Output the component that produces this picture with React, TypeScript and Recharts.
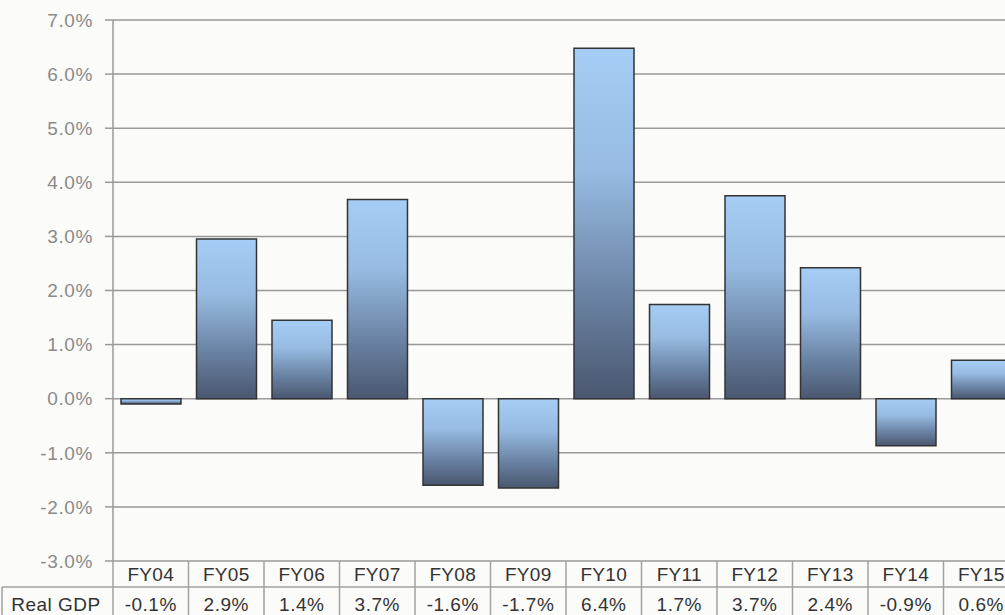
import React from 'react';
import { BarChart, Bar, XAxis, YAxis, CartesianGrid } from 'recharts';

// fiscal years shown under the plot
const years = ['FY04', 'FY05', 'FY06', 'FY07', 'FY08', 'FY09', 'FY10', 'FY11', 'FY12', 'FY13', 'FY14', 'FY15'];
// bar heights (%)
const growth = [-0.1, 2.95, 1.45, 3.68, -1.6, -1.65, 6.48, 1.74, 3.75, 2.42, -0.87, 0.71];
// numbers printed in the table row
const tableText = ['-0.1%', '2.9%', '1.4%', '3.7%', '-1.6%', '-1.7%', '6.4%', '1.7%', '3.7%', '2.4%', '-0.9%', '0.6%'];
const yTicks = [-3, -2, -1, 0, 1, 2, 3, 4, 5, 6, 7];
const rowLabel = 'Real GDP';

const data = years.map((fy, i) => ({ fy, gdp: growth[i], label: tableText[i] }));

const PLOT_LEFT = 113;
const PLOT_BOTTOM = 561;
const COL_W = 75.5;
const ROW_SPLIT = 587;
const TABLE_END = 640;
const FONT = '"Liberation Sans", Arial, sans-serif';
const BORDER = '#a2a2a2';
const INK = '#333';

const TableTick = (props: any) => {
  const { x, payload } = props;
  const i = payload.index;
  const left = x - COL_W / 2;
  const right = x + COL_W / 2;
  return (
    <g>
      <line x1={left} y1={PLOT_BOTTOM} x2={left} y2={TABLE_END} stroke={BORDER} strokeWidth={1.5} />
      {i === years.length - 1 && (
        <line x1={right} y1={PLOT_BOTTOM} x2={right} y2={TABLE_END} stroke={BORDER} strokeWidth={1.5} />
      )}
      {i === 0 && (
        <g>
          <line x1={2} y1={ROW_SPLIT} x2={left + COL_W * years.length} y2={ROW_SPLIT} stroke={BORDER} strokeWidth={1.5} />
          <line x1={2} y1={ROW_SPLIT} x2={2} y2={TABLE_END} stroke={BORDER} strokeWidth={1.5} />
          <text x={56} y={611} textAnchor="middle" fontSize={19} fill={INK} fontFamily={FONT} letterSpacing={0.5}>
            {rowLabel}
          </text>
        </g>
      )}
      <text x={x} y={581} textAnchor="middle" fontSize={19} fill={INK} fontFamily={FONT} letterSpacing={0.3}>
        {payload.value}
      </text>
      <text x={x} y={611} textAnchor="middle" fontSize={19} fill={INK} fontFamily={FONT} letterSpacing={0.5}>
        {tableText[i]}
      </text>
    </g>
  );
};

export default function App() {
  return (
    <div
      style={{
        position: 'absolute',
        left: 0,
        top: 0,
        width: 1005,
        height: 615,
        overflow: 'hidden',
        background: '#fbfbfa',
      }}
    >
      <BarChart
        width={1030}
        height={650}
        data={data}
        margin={{ top: 20, right: 11, bottom: 0, left: 0 }}
        barSize={60}
      >
        <defs>
          <linearGradient id="barFill" x1="0" y1="0" x2="0" y2="1">
            <stop offset="0%" stopColor="#a6cdf5" />
            <stop offset="35%" stopColor="#97bbe2" />
            <stop offset="70%" stopColor="#6a83a4" />
            <stop offset="100%" stopColor="#4a576f" />
          </linearGradient>
        </defs>
        <CartesianGrid vertical={false} stroke="#999" strokeWidth={1.5} />
        <XAxis
          dataKey="fy"
          axisLine={false}
          tickLine={false}
          height={89}
          interval={0}
          tick={<TableTick />}
        />
        <YAxis
          domain={[-3, 7]}
          ticks={yTicks}
          width={PLOT_LEFT}
          tickFormatter={(v: number) => `${v.toFixed(1)}%`}
          tickSize={8}
          tickMargin={12}
          axisLine={{ stroke: '#999', strokeWidth: 1.5 }}
          tickLine={{ stroke: '#999', strokeWidth: 1.5 }}
          tick={{ fill: '#8a8a8a', fontSize: 19, fontFamily: FONT, letterSpacing: 0.6 }}
          interval={0}
        />
        <Bar dataKey="gdp" fill="url(#barFill)" stroke="#333" strokeWidth={1.5} isAnimationActive={false} />
      </BarChart>
    </div>
  );
}
